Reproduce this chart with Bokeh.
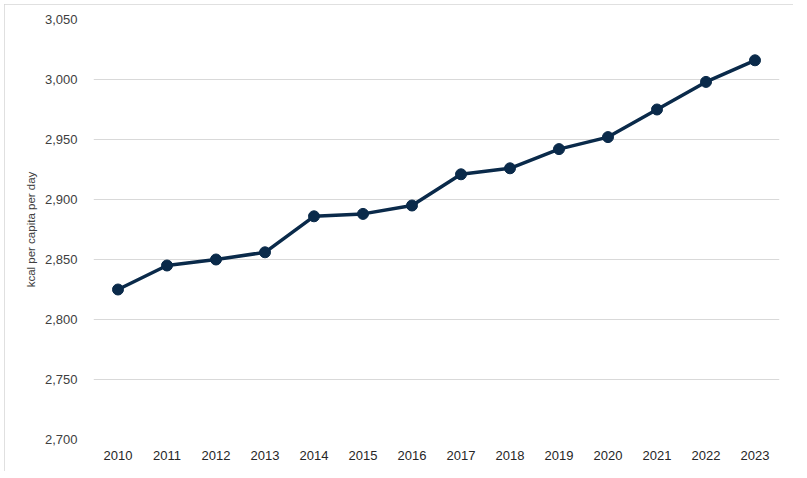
from bokeh.plotting import figure
from bokeh.models import Range1d, FactorRange, FixedTicker, NumeralTickFormatter, ColumnDataSource
from bokeh.embed import file_html
from bokeh.resources import INLINE

years = ["2010", "2011", "2012", "2013", "2014", "2015", "2016",
         "2017", "2018", "2019", "2020", "2021", "2022", "2023"]
kcal = [2825, 2845, 2850, 2856, 2886, 2888, 2895,
        2921, 2926, 2942, 2952, 2975, 2998, 3016]
y_ticks = [2700, 2750, 2800, 2850, 2900, 2950, 3000, 3050]
y_title = "kcal per capita per day"

NAVY = "#0a2a4a"
FONT = "Liberation Sans"

src = ColumnDataSource(data=dict(year=years, kcal=kcal))

p = figure(width=789, height=467, output_backend="svg", toolbar_location=None,
           x_range=FactorRange(factors=years, range_padding=0),
           y_range=Range1d(2700, 3050),
           min_border_left=89, min_border_right=14, min_border_top=15, min_border_bottom=32,
           styles={"margin-left": "4px", "margin-top": "4px",
                   "outline": "1.5px solid #d6d6d6", "outline-offset": "-1px"})

p.line("year", "kcal", source=src, line_color=NAVY, line_width=3.5)
p.scatter("year", "kcal", source=src, size=11, fill_color=NAVY, line_color=NAVY)

p.outline_line_color = None
p.xgrid.grid_line_color = None
p.ygrid.grid_line_color = "#d9d9d9"
p.ygrid.grid_line_width = 1

p.yaxis.ticker = FixedTicker(ticks=y_ticks)
p.yaxis.formatter = NumeralTickFormatter(format="0,0")
p.yaxis.axis_line_color = None
p.yaxis.major_tick_line_color = None
p.yaxis.minor_tick_line_color = None
p.yaxis.major_tick_out = 0
p.yaxis.major_label_standoff = 16
p.yaxis.major_label_text_font = FONT
p.yaxis.major_label_text_font_size = "13px"
p.yaxis.major_label_text_color = "#404040"
p.yaxis.axis_label = y_title
p.yaxis.axis_label_text_font = FONT
p.yaxis.axis_label_text_font_size = "11.5px"
p.yaxis.axis_label_text_font_style = "normal"
p.yaxis.axis_label_text_color = "#404040"
p.yaxis.axis_label_standoff = 5

p.xaxis.axis_line_color = None
p.xaxis.major_tick_line_color = None
p.xaxis.minor_tick_line_color = None
p.xaxis.major_tick_out = 0
p.xaxis.major_label_standoff = 11
p.xaxis.major_label_text_font = FONT
p.xaxis.major_label_text_font_size = "13px"
p.xaxis.major_label_text_color = "#262626"

open("out.html", "w").write(file_html(p, INLINE))
